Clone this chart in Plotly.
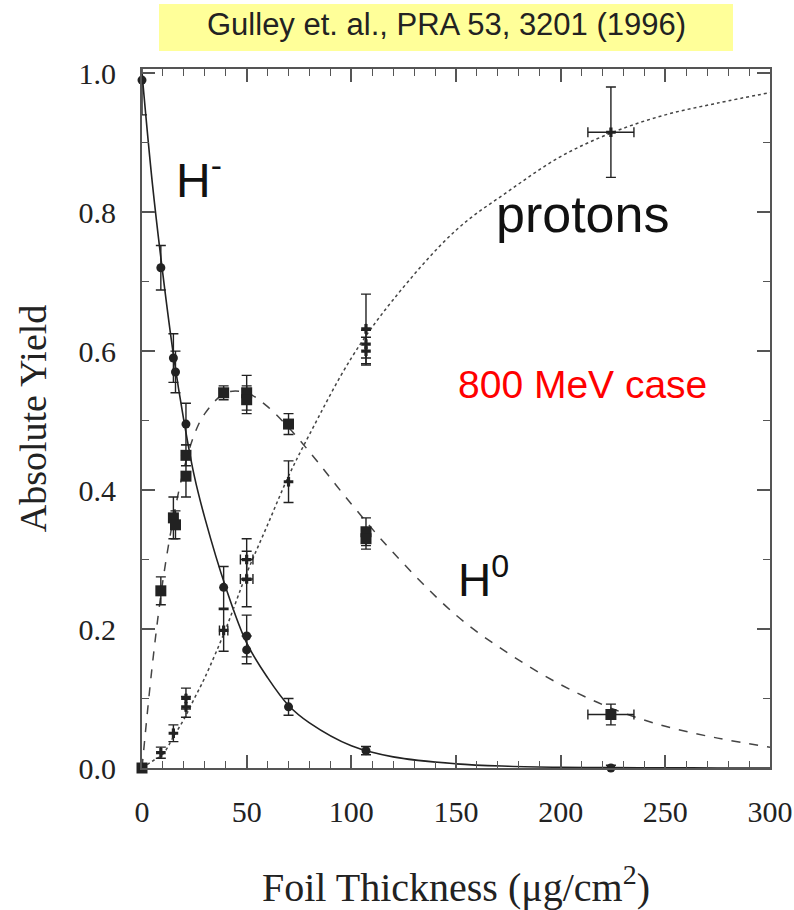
import plotly.graph_objects as go

hm_x = [0, 9, 15, 16, 21, 39, 50, 50, 70, 107, 224]
hm_y = [0.99, 0.72, 0.59, 0.57, 0.495, 0.26, 0.19, 0.17, 0.088, 0.025, 0.0]
hm_e = [0.05, 0.032, 0.035, 0.03, 0.03, 0.03, 0.03, 0.02, 0.012, 0.006, 0.004]

h0_x = [0, 9, 15, 16, 21, 21, 39, 50, 50, 70, 107, 107, 224]
h0_y = [0.0, 0.255, 0.36, 0.35, 0.45, 0.42, 0.54, 0.54, 0.53, 0.495, 0.34, 0.33, 0.077]
h0_e = [0.004, 0.02, 0.03, 0.02, 0.015, 0.03, 0.01, 0.025, 0.02, 0.015, 0.02, 0.015, 0.015]
h0_ex = [0, 0, 0, 0, 0, 0, 0, 2, 2, 0, 0, 0, 11]

pr_x = [0, 9, 15, 21, 21, 39, 50, 50, 70, 107, 107, 107, 224]
pr_y = [0.0, 0.022, 0.05, 0.088, 0.1, 0.198, 0.30, 0.272, 0.412, 0.632, 0.61, 0.60, 0.915]
pr_e = [0.004, 0.008, 0.012, 0.015, 0.015, 0.03, 0.03, 0.04, 0.03, 0.05, 0.02, 0.02, 0.065]
pr_ex = [0, 0, 0, 0, 0, 2, 3, 3, 0, 0, 0, 0, 11]

# ---- fitted curves ----
cx = [0, 5, 10, 15, 20, 25, 30, 40, 50, 60, 70, 80, 100, 120, 150, 175, 200, 225, 250, 275, 300]
c_hm = [1.0, 0.84, 0.71, 0.595, 0.50, 0.42, 0.36, 0.26, 0.18, 0.13, 0.09, 0.065, 0.032, 0.016, 0.006,
        0.0025, 0.001, 0.0005, 0.0002, 0.0001, 0.0]
c_h0 = [0.0, 0.15, 0.27, 0.36, 0.43, 0.48, 0.51, 0.54, 0.54, 0.52, 0.49, 0.455, 0.38, 0.31, 0.22,
        0.165, 0.12, 0.085, 0.06, 0.043, 0.03]
c_pr = [0.0, 0.01, 0.02, 0.045, 0.07, 0.10, 0.13, 0.20, 0.28, 0.35, 0.42, 0.48, 0.59, 0.674, 0.774,
        0.83, 0.88, 0.915, 0.94, 0.957, 0.972]

x_ticks = [0, 50, 100, 150, 200, 250, 300]
y_ticks = [0, 0.2, 0.4, 0.6, 0.8, 1.0]

ink = "#222222"
serif = "Liberation Serif, Times New Roman, serif"
sans = "Liberation Sans, Arial, sans-serif"

L, R, T, B = 142, 24, 69, 142
W, H = 794, 910
PW, PH = W - L - R, H - T - B

fig = go.Figure()

fig.add_trace(go.Scatter(x=cx, y=c_hm, mode="lines", line=dict(color=ink, width=1.6, shape="spline"),
                         showlegend=False, hoverinfo="skip"))
fig.add_trace(go.Scatter(x=cx, y=c_h0, mode="lines", line=dict(color="#444", width=1.5, dash="dash", shape="spline"),
                         showlegend=False, hoverinfo="skip"))
fig.add_trace(go.Scatter(x=cx, y=c_pr, mode="lines", line=dict(color="#444", width=1.5, dash="dot", shape="spline"),
                         showlegend=False, hoverinfo="skip"))

fig.add_trace(go.Scatter(x=hm_x, y=hm_y, mode="markers", cliponaxis=False,
                         marker=dict(symbol="circle", size=9, color=ink),
                         error_y=dict(type="data", array=hm_e, color=ink, thickness=1.4, width=5),
                         showlegend=False))
fig.add_trace(go.Scatter(x=h0_x, y=h0_y, mode="markers", cliponaxis=False,
                         marker=dict(symbol="square", size=11, color=ink),
                         error_y=dict(type="data", array=h0_e, color=ink, thickness=1.4, width=5),
                         error_x=dict(type="data", array=h0_ex, color=ink, thickness=1.4, width=5),
                         showlegend=False))
fig.add_trace(go.Scatter(x=pr_x, y=pr_y, mode="markers", cliponaxis=False,
                         marker=dict(symbol="cross", size=8, color=ink),
                         error_y=dict(type="data", array=pr_e, color=ink, thickness=1.4, width=5),
                         error_x=dict(type="data", array=pr_ex, color=ink, thickness=1.4, width=5),
                         showlegend=False))

axis_common = dict(showline=True, linecolor="#555", linewidth=2, mirror="allticks",
                   ticks="inside", ticklen=13, tickwidth=1.5, tickcolor="#555",
                   showgrid=False, zeroline=False, automargin=False,
                   tickfont=dict(family=serif, size=30, color="#222"))

fig.update_xaxes(range=[0, 300], tickvals=x_ticks, ticklabelstandoff=16,
                 minor=dict(dtick=10, ticklen=7, tickcolor="#555", ticks="inside", tickwidth=1.2),
                 title=dict(text="Foil Thickness (μg/cm<sup>2</sup>)",
                            font=dict(family=serif, size=40, color="#222"), standoff=48),
                 **axis_common)
fig.update_yaxes(range=[0, 1.006], tickvals=y_ticks, tickformat=".1f", ticklabelstandoff=18,
                 minor=dict(dtick=0.1, ticklen=7, tickcolor="#555", ticks="inside", tickwidth=1.2),
                 title=dict(text="Absolute Yield",
                            font=dict(family=serif, size=38, color="#222"), standoff=20),
                 **axis_common)

# citation box
bx0, bx1, by0, by1 = 159, 733, 4, 51
fig.add_shape(type="rect", xref="paper", yref="paper",
              x0=(bx0 - L) / PW, x1=(bx1 - L) / PW,
              y0=(H - B - by1) / PH, y1=(H - B - by0) / PH,
              fillcolor="#ffff99", line=dict(width=0), layer="below")
fig.add_annotation(x=(205 - L) / PW, xanchor="left", y=(H - B - 25) / PH, yanchor="middle",
                   xref="paper", yref="paper",
                   showarrow=False, text="Gulley et. al., PRA 53, 3201 (1996)",
                   font=dict(family=sans, size=31, color="#222"))

fig.add_annotation(x=15.5, y=0.85, showarrow=False, xanchor="left", text="H<sup>-</sup>",
                   font=dict(family=sans, size=48, color="#111"))
fig.add_annotation(x=168, y=0.797, showarrow=False, xanchor="left", text="protons",
                   font=dict(family=sans, size=52, color="#111"))
fig.add_annotation(x=150, y=0.552, showarrow=False, xanchor="left", text="800 MeV case",
                   font=dict(family=sans, size=39, color="#ff0000"))
fig.add_annotation(x=150, y=0.275, showarrow=False, xanchor="left", text="H<sup>0</sup>",
                   font=dict(family=sans, size=46, color="#111"))

fig.update_layout(width=W, height=H, plot_bgcolor="white", paper_bgcolor="white",
                  margin=dict(l=L, r=R, t=T, b=B))

fig.write_html("out.html", config={"displayModeBar": False},
               post_script="document.body.style.margin='0px';")
